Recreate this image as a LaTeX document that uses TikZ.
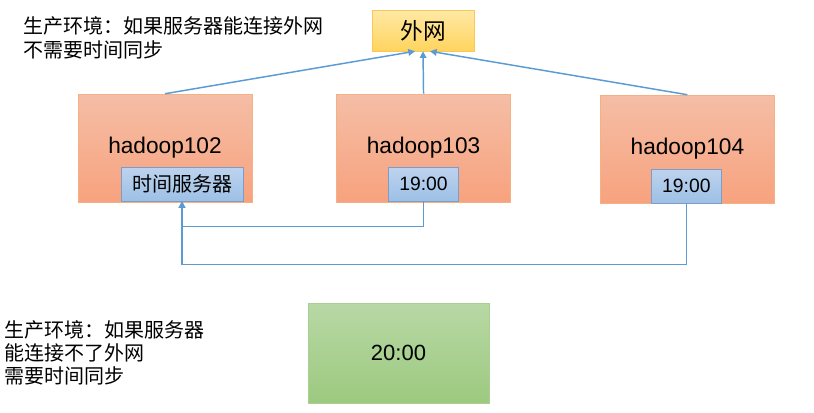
\documentclass[tikz,border=0pt]{standalone}
\usepackage{fontspec}
\setmainfont{Liberation Sans}
\newfontfamily\cjk{Noto Sans CJK SC}
\usepackage{xcolor}
\definecolor{hostTop}{HTML}{F5BEA6}
\definecolor{hostBottom}{HTML}{F7A27E}
\definecolor{hostBorder}{HTML}{F4B183}
\definecolor{clockTop}{HTML}{BDD3EE}
\definecolor{clockBottom}{HTML}{9DC0E6}
\definecolor{clockBorder}{HTML}{7F9CC6}
\definecolor{netTop}{HTML}{FFE9A6}
\definecolor{netBottom}{HTML}{FFD45E}
\definecolor{netBorder}{HTML}{F9C859}
\definecolor{offTop}{HTML}{B8D8A5}
\definecolor{offBottom}{HTML}{9CC97F}
\definecolor{offBorder}{HTML}{A9CF92}
\definecolor{linkBlue}{HTML}{5B9BD5}
\usetikzlibrary{arrows.meta,positioning}
\tikzset{
    host/.style={
        draw=hostBorder,
        top color=hostTop,
        bottom color=hostBottom,
        rectangle,
        minimum width=130.5pt,
        minimum height=81pt,
        inner sep=0pt,
        font=\fontsize{17}{20}\selectfont
    },
    clock/.style={
        draw=clockBorder,
        top color=clockTop,
        bottom color=clockBottom,
        rectangle,
        minimum height=25.5pt,
        inner sep=0pt,
        font=\fontsize{14.5}{17}\selectfont
    },
    internet/.style={
        draw=netBorder,
        top color=netTop,
        bottom color=netBottom,
        rectangle,
        minimum width=76.5pt,
        minimum height=30.75pt,
        inner sep=0pt,
        font=\cjk\fontsize{17}{20}\selectfont
    },
    offline/.style={
        draw=offBorder,
        top color=offTop,
        bottom color=offBottom,
        rectangle,
        minimum width=135.75pt,
        minimum height=75pt,
        inner sep=0pt,
        font=\fontsize{16.5}{20}\selectfont
    },
    note/.style={
        align=left,
        anchor=north west,
        inner sep=0pt,
        font=\cjk\fontsize{15}{17.5}\selectfont
    },
    link/.style={
        -{Triangle[length=5pt,width=5pt]},
        draw=linkBlue,
        line width=1.1pt
    }
}
\begin{document}
\begin{tikzpicture}[x=0.75pt,y=-0.75pt]
    \useasboundingbox (0,0) rectangle (814,412);
    \node[internet] (wan) at (423,30.5) {外网};
    \node[host] (hadoop102) at (165,148) {hadoop102};
    \node[host, right=63pt of hadoop102] (hadoop103) {hadoop103};
    \node[host, right=67pt of hadoop103, yshift=-0.75pt] (hadoop104) {hadoop104};
    \node[clock, anchor=south, minimum width=91.5pt, font=\cjk\fontsize{15}{17}\selectfont]
        (timesrv) at ([xshift=12.75pt,yshift=0.75pt]hadoop102.south) {时间服务器};
    \node[clock, anchor=south, minimum width=52.5pt] (clock103) at ([yshift=0.75pt]hadoop103.south) {19:00};
    \node[clock, anchor=south, minimum width=52.5pt] (clock104) at ([xshift=-0.75pt]hadoop104.south) {19:00};
    \node[offline] (local) at (398.5,353) {20:00};

    \node[note] (online) at (23,16.5) {生产环境：如果服务器能连接外网\\不需要时间同步};
    \node[note] (isolated) at (4,320) {生产环境：如果服务器\\能连接不了外网\\需要时间同步};

    \draw[link] (hadoop102.north) -- ([xshift=-6pt]wan.south);
    \draw[link] (hadoop103.north) -- (wan.south);
    \draw[link] (hadoop104.north) -- ([xshift=5.25pt]wan.south);
    \draw[link] (clock103.south) -- ++(0,25) -| (timesrv.south);
    \draw[link] (clock104.south) -- ++(0,61) -| (timesrv.south);
\end{tikzpicture}
\end{document}
